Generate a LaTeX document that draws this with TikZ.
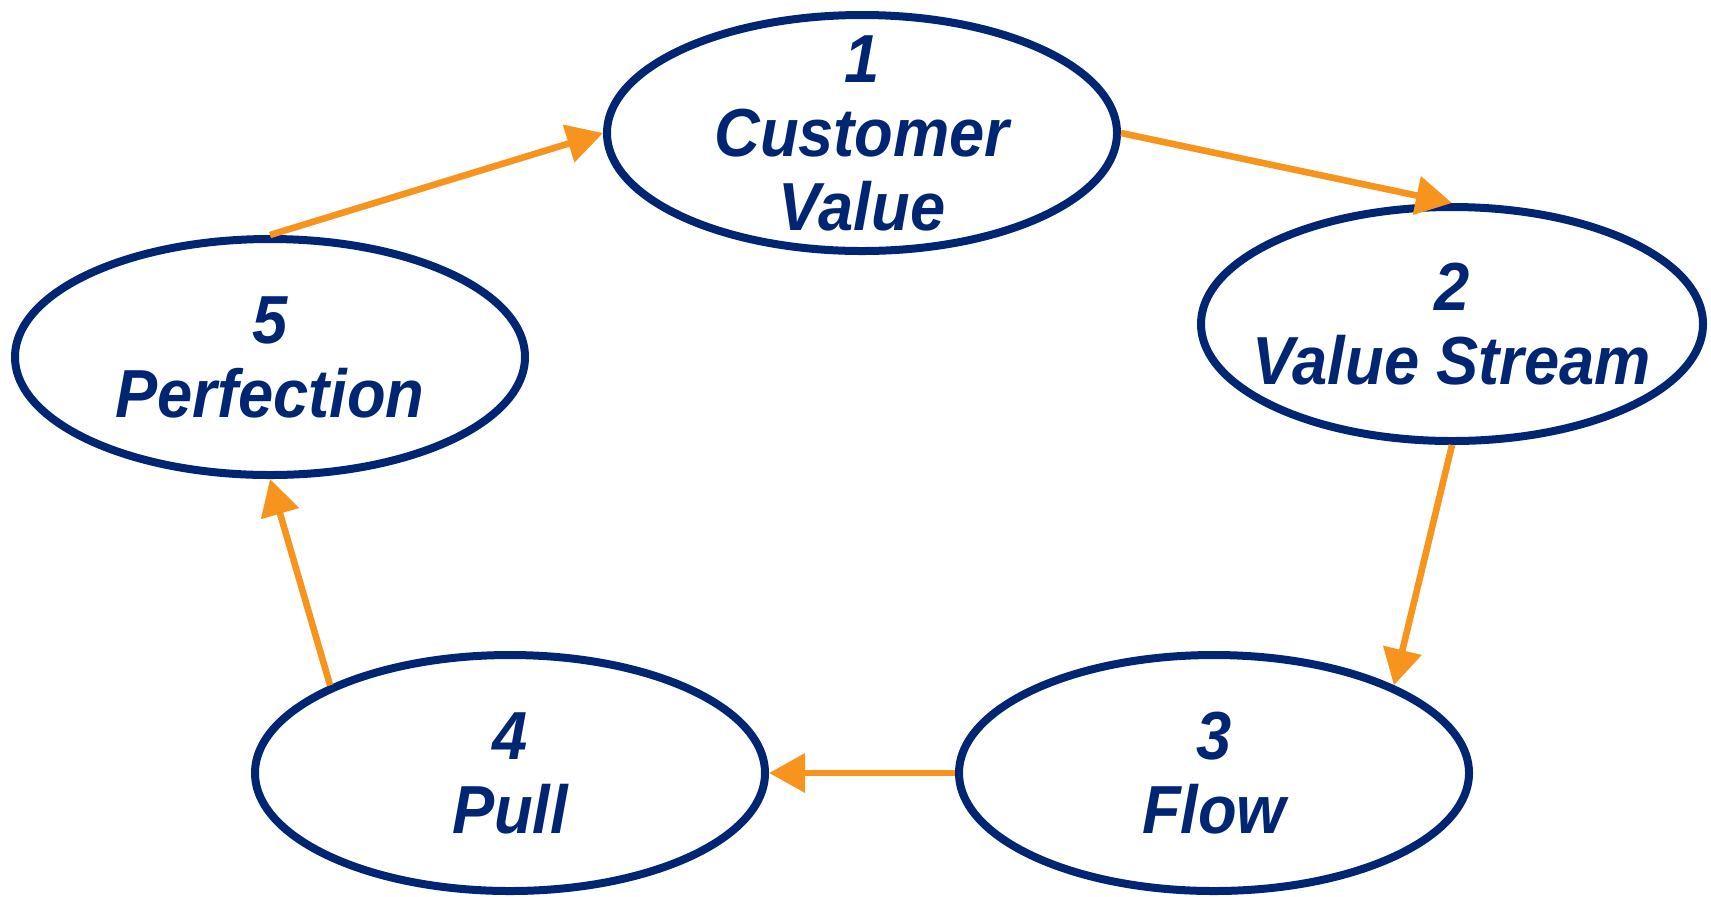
\documentclass[tikz,border=0pt]{standalone}
\usepackage{fontspec}
\usetikzlibrary{arrows.meta,shapes.geometric}
\newfontfamily\leanfont{Liberation Sans}[FakeStretch=0.93]
\definecolor{leanblue}{RGB}{0,38,115}
\definecolor{leanorange}{RGB}{247,148,29}

\begin{document}
\begin{tikzpicture}[x=0.5pt, y=-0.5pt,
		stage/.style={ellipse, draw=leanblue, line width=4pt, minimum width=255pt, minimum height=118pt, inner sep=-30pt, align=center, text=leanblue, font=\leanfont\bfseries\itshape\fontsize{34}{37}\selectfont},
		leanarrow/.style={draw=leanorange, line width=3.3pt, -{Triangle[length=18pt,width=19pt]}}]
		%%%%% START %%%%%
		
		\useasboundingbox (0, 0) rectangle (1711, 896);
		
		\node[stage] (value) at (862, 133) {1\\Customer\\Value};
		\node[stage, minimum width=251pt, minimum height=117pt] (stream) at (1452, 324) {2\\Value Stream};
		\node[stage] (flow) at (1214, 773) {3\\Flow};
		\node[stage] (pull) at (510, 773) {4\\Pull};
		\node[stage] (perfection) at (270, 357) {5\\Perfection};
		
		\draw[leanarrow] (perfection.north) -- (value.west);
		\draw[leanarrow] (value.east) -- (stream.north);
		\draw[leanarrow] (stream.south) -- (flow.26);
		\draw[leanarrow] (flow.west) -- (pull.east);
		\draw[leanarrow] (pull.154) -- (perfection.south);
		
		%%%%% END %%%%%
	\end{tikzpicture}
\end{document}
